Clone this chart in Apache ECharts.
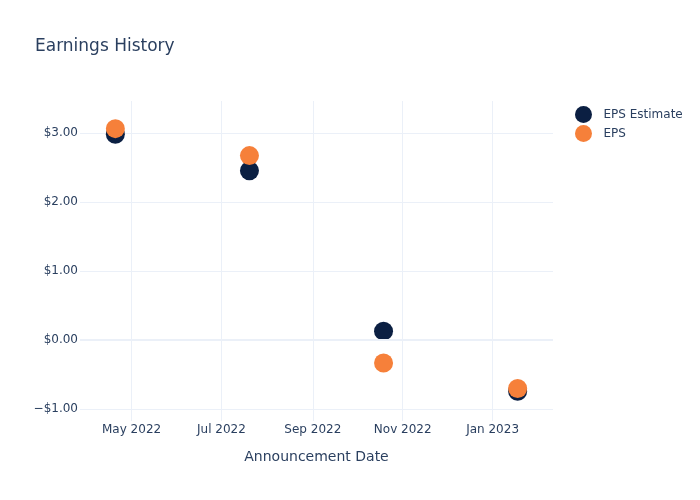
<!DOCTYPE html>
<html>
<head>
<meta charset="utf-8">
<script src="https://cdn.jsdelivr.net/npm/echarts@6/dist/echarts.min.js"></script>
<style>html,body{margin:0;padding:0;background:#fff}#c{width:700px;height:500px}</style>
</head>
<body>
<div id="c"></div>
<script>
const dates = ['2022-04-20', '2022-07-20', '2022-10-19', '2023-01-18'];
const epsEstimate = [2.98, 2.45, 0.13, -0.74];
const eps = [3.06, 2.67, -0.33, -0.70];
const xTicks = ['2022-05-01', '2022-07-01', '2022-09-01', '2022-11-01', '2023-01-01'];
const yTicks = [-1, 0, 1, 2, 3];
const xRange = ['2022-03-27', '2023-02-11'];
const yRange = [-1.17, 3.46];

const months = ['Jan','Feb','Mar','Apr','May','Jun','Jul','Aug','Sep','Oct','Nov','Dec'];
function ts(s) { const p = s.split('-').map(Number); return Date.UTC(p[0], p[1]-1, p[2]); }
const textColor = '#2a3f5f';
const gridColor = '#EBF0F8';
const font = 'DejaVu Sans, Verdana, sans-serif';

const chart = echarts.init(document.getElementById('c'), null, {renderer: 'canvas'});
chart.setOption({
  backgroundColor: '#fff',
  animation: false,
  title: {
    text: 'Earnings History', left: 30, top: 33,
    textStyle: {fontFamily: font, fontSize: 17, fontWeight: 'normal', color: textColor}
  },
  legend: {
    orient: 'vertical', left: 570, top: 101, itemWidth: 30, itemHeight: 17, itemGap: 2,
    icon: 'circle',
    textStyle: {fontFamily: font, fontSize: 12, color: textColor},
    data: ['EPS Estimate', 'EPS']
  },
  grid: {left: 80, right: 147, top: 101, bottom: 79, containLabel: false},
  xAxis: {
    type: 'value', min: ts(xRange[0]), max: ts(xRange[1]),
    name: 'Announcement Date', nameLocation: 'middle', nameGap: 29,
    nameTextStyle: {fontFamily: font, fontSize: 14, color: textColor},
    axisLine: {show: false},
    axisTick: {show: false, customValues: xTicks.map(ts)},
    splitLine: {show: true, lineStyle: {color: gridColor, width: 1}},
    axisLabel: {
      customValues: xTicks.map(ts), margin: 3, hideOverlap: false,
      fontFamily: font, fontSize: 12, color: textColor,
      formatter: function (v) { const d = new Date(v); return months[d.getUTCMonth()] + ' ' + d.getUTCFullYear(); }
    }
  },
  yAxis: {
    type: 'value', min: yRange[0], max: yRange[1],
    axisLine: {show: false},
    axisTick: {show: false, customValues: yTicks},
    splitLine: {show: true, lineStyle: {color: gridColor, width: 1}},
    axisLabel: {
      customValues: yTicks, margin: 2,
      fontFamily: font, fontSize: 12, color: textColor,
      formatter: function (v) { return (v < 0 ? '\u2212' : '') + '$' + Math.abs(v).toFixed(2); }
    }
  },
  series: [
    {
      name: 'EPS Estimate', type: 'scatter', symbolSize: 19,
      itemStyle: {color: '#0b1f42', opacity: 1},
      data: dates.map((d, i) => [ts(d), epsEstimate[i]]),
      markLine: {
        silent: true, symbol: 'none', label: {show: false},
        lineStyle: {color: gridColor, width: 2, type: 'solid'},
        data: [{yAxis: 0}]
      },
      z: 2
    },
    {
      name: 'EPS', type: 'scatter', symbolSize: 19,
      itemStyle: {color: '#f6803a', opacity: 1},
      data: dates.map((d, i) => [ts(d), eps[i]]),
      z: 3
    }
  ]
});
</script>
</body>
</html>
